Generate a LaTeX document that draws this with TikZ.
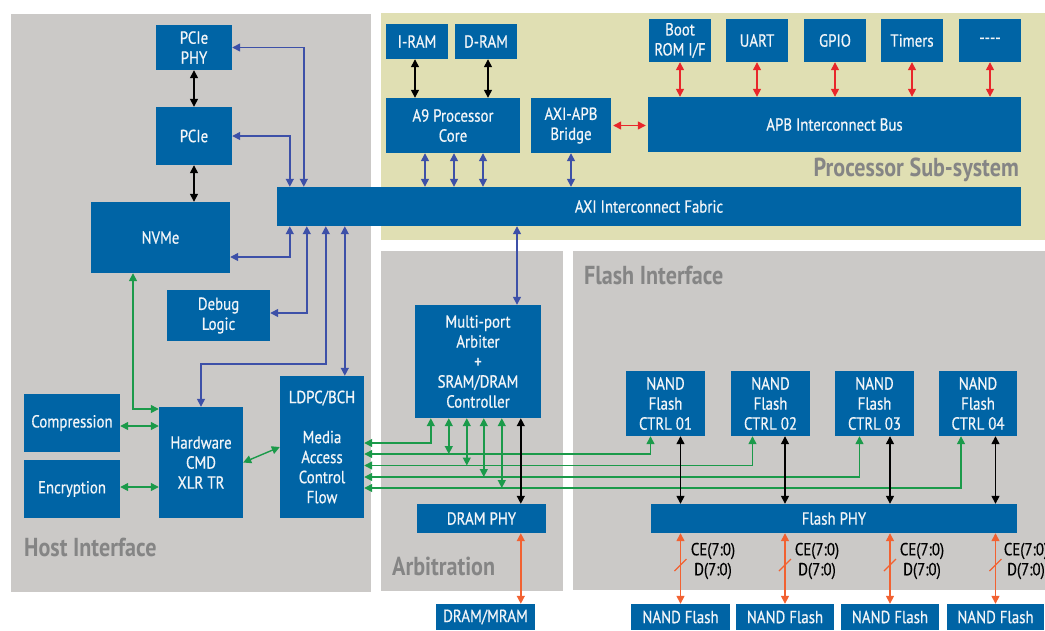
\documentclass[tikz,border=0pt]{standalone}
\usepackage{fontspec}
\setmainfont[FakeStretch=0.85]{PT Sans}
\newfontfamily\boxfont[FakeStretch=0.85, FakeBold=0.6]{PT Sans}
\usepackage{xcolor}
\usepackage{tikz}
\usetikzlibrary{arrows.meta,positioning}
\tikzset{>={Triangle[length=8pt,width=8pt]}}

\definecolor{boxblue}{HTML}{0064A5}
\definecolor{boxtext}{HTML}{F2F5F8}
\definecolor{areagray}{HTML}{CBC9C7}
\definecolor{proctan}{HTML}{E0DFB3}
\definecolor{areatext}{HTML}{858585}
\definecolor{arrblue}{HTML}{3D50A8}
\definecolor{arrgreen}{HTML}{1B9A4A}
\definecolor{arrred}{HTML}{E8262B}
\definecolor{arrorange}{HTML}{F26131}

\begin{document}
\begin{tikzpicture}[x=1pt, y=-1pt,
                    blk/.style={fill=boxblue, text=boxtext, align=center, inner sep=0pt,
                                font=\boxfont\fontsize{17.5}{20}\selectfont},
                    area/.style={text=areatext, inner sep=0pt,
                                 font=\fontsize{26}{28}\selectfont\bfseries},
                    sig/.style={align=center, inner sep=0pt, font=\boxfont\fontsize{17.5}{20}\selectfont},
                    blu/.style={line width=1.4pt, arrblue, <->},
                    grn/.style={line width=1.4pt, arrgreen, <->},
                    red/.style={line width=1.4pt, arrred, <->},
                    org/.style={line width=1.4pt, arrorange, <->},
                    blk2/.style={line width=1.4pt, black, <->},
                   ]

\useasboundingbox (0,0) rectangle (1045,630);

% areas
\fill[areagray] (11,14) rectangle (371,592);
\fill[proctan] (381,13) rectangle (1045,240);
\fill[areagray] (381,251) rectangle (563,591);
\fill[areagray] (573,251) rectangle (1045,590);

\node[area, anchor=base west] (hostlbl) at (24,556) {Host Interface};
\node[area, anchor=base east] (proclbl) at (1019,176) {Processor Sub-system};
\node[area, anchor=base west] (arblbl) at (392,575) {Arbitration};
\node[area, anchor=base west] (flashlbl) at (584,284) {Flash Interface};

% host interface
\node[blk, minimum width=76pt, minimum height=45pt] (pciephy) at (194,47.5) {PCIe\\PHY};
\node[blk, minimum width=76pt, minimum height=58pt] (pcie) at (194,136) {PCIe};
\node[blk, minimum width=139pt, minimum height=71pt] (nvme) at (160.5,237.5) {NVMe};
\node[blk, minimum width=103pt, minimum height=51pt] (debug) at (218.5,315.5) {Debug\\Logic};
\node[blk, minimum width=96pt, minimum height=58pt] (compr) at (72,423) {Compression};
\node[blk, minimum width=96pt, minimum height=58pt] (encr) at (72,489) {Encryption};
\node[blk, minimum width=84pt, minimum height=111pt] (hwcmd) at (201,462.5) {Hardware\\CMD\\XLR TR};
\node[blk, minimum width=84pt, minimum height=142pt] (ldpc) at (322,447) {LDPC/BCH\\[20pt]Media\\Access\\Control\\Flow};

% processor sub-system
\node[blk, minimum width=744pt, minimum height=39pt] (fabric) at (649,206.5) {AXI Interconnect Fabric};
\node[blk, minimum width=62pt, minimum height=35pt] (iram) at (417,41.5) {I-RAM};
\node[blk, minimum width=62pt, minimum height=35pt] (dram) at (486,41.5) {D-RAM};
\node[blk, minimum width=134pt, minimum height=55pt] (a9) at (453,125.5) {A9 Processor\\Core};
\node[blk, minimum width=80pt, minimum height=55pt] (bridge) at (571,125.5) {AXI-APB\\Bridge};
\node[blk, minimum width=373pt, minimum height=55pt] (apb) at (834.5,124.5) {APB Interconnect Bus};
\node[blk, minimum width=62pt, minimum height=43pt] (boot) at (680,40.5) {Boot\\ROM I/F};
\node[blk, minimum width=62pt, minimum height=43pt] (uart) at (757,40.5) {UART};
\node[blk, minimum width=62pt, minimum height=43pt] (gpio) at (835,40.5) {GPIO};
\node[blk, minimum width=62pt, minimum height=43pt] (timers) at (912,40.5) {Timers};
\node[blk, minimum width=62pt, minimum height=43pt] (spare) at (990,40.5) {-{}-{}-{}-};

% arbitration
\node[blk, minimum width=126pt, minimum height=113pt] (arb) at (478,361.5) {Multi-port\\Arbiter\\+\\SRAM/DRAM\\Controller};
\node[blk, minimum width=129pt, minimum height=29pt] (dphy) at (481.5,518.5) {DRAM PHY};
\node[blk, minimum width=99pt, minimum height=26pt] (mram) at (485.5,617) {DRAM/MRAM};

% flash interface
\node[blk, minimum width=79pt, minimum height=65pt] (nc1) at (665.5,403.5) {NAND\\Flash\\CTRL 01};
\node[blk, minimum width=79pt, minimum height=65pt] (nc2) at (770.5,403.5) {NAND\\Flash\\CTRL 02};
\node[blk, minimum width=79pt, minimum height=65pt] (nc3) at (874.5,403.5) {NAND\\Flash\\CTRL 03};
\node[blk, minimum width=78pt, minimum height=65pt] (nc4) at (978,403.5) {NAND\\Flash\\CTRL 04};
\node[blk, minimum width=366pt, minimum height=29pt] (fphy) at (834,518.5) {Flash PHY};
\node[blk, minimum width=99pt, minimum height=26pt] (nf1) at (680.5,617) {NAND Flash};
\node[blk, minimum width=98pt, minimum height=26pt] (nf2) at (785,617) {NAND Flash};
\node[blk, minimum width=98pt, minimum height=26pt] (nf3) at (890,617) {NAND Flash};
\node[blk, minimum width=97pt, minimum height=26pt] (nf4) at (995.5,617) {NAND Flash};

\node[sig] (bus1) at (713,561) {CE(7:0)\\D(7:0)};
\node[sig] (bus2) at (817,561) {CE(7:0)\\D(7:0)};
\node[sig] (bus3) at (922,561) {CE(7:0)\\D(7:0)};
\node[sig] (bus4) at (1026,561) {CE(7:0)\\D(7:0)};

% black links
\draw[blk2] (pciephy.south) -- (pcie.north);
\draw[blk2] (pcie.south) -- (pcie.south |- nvme.north);
\draw[blk2] ([xshift=-2pt]iram.south) -- ([xshift=-2pt]iram.south |- a9.north);
\draw[blk2] ([xshift=2pt]dram.south) -- ([xshift=2pt]dram.south |- a9.north);

% host blue links
\draw[blu] (pciephy.east) -| ([xshift=27pt]fabric.north west);
\draw[blu] (pcie.east) -| ([xshift=13pt]fabric.north west);
\draw[blu] (nvme.east |- 0,257) -| ([xshift=13pt]fabric.south west);
\draw[blu] (debug.east |- 0,313) -| ([xshift=30pt]fabric.south west);
\draw[blu] ([xshift=49pt]fabric.south west) |- (hwcmd.north |- 0,364) -- (hwcmd.north);
\draw[blu] ([xshift=68pt]fabric.south west) -- ([xshift=68pt]fabric.south west |- ldpc.north);

% processor blue and red links
\draw[blu] ([xshift=-28pt]a9.south) -- ([xshift=-28pt]a9.south |- fabric.north);
\draw[blu] ([xshift=1pt]a9.south) -- ([xshift=1pt]a9.south |- fabric.north);
\draw[blu] ([xshift=30pt]a9.south) -- ([xshift=30pt]a9.south |- fabric.north);
\draw[blu] (bridge.south) -- (bridge.south |- fabric.north);
\draw[blu] ([xshift=39pt]arb.north) -- ([xshift=39pt]arb.north |- fabric.south);

\draw[red] ([xshift=2pt]bridge.east) -- ([xshift=-2pt]bridge.east -| apb.west);
\draw[red] (boot.south) -- (boot.south |- apb.north);
\draw[red] (uart.south) -- (uart.south |- apb.north);
\draw[red] (gpio.south) -- (gpio.south |- apb.north);
\draw[red] (timers.south) -- (timers.south |- apb.north);
\draw[red] (spare.south) -- (spare.south |- apb.north);

% host green links
\draw[grn] ([xshift=-27.5pt]nvme.south) |- (hwcmd.west |- 0,409);
\draw[grn] (compr.east |- 0,426) -- (hwcmd.west |- 0,426);
\draw[grn] (encr.east |- 0,487) -- (hwcmd.west |- 0,487);
\draw[grn] (hwcmd.east) -- (ldpc.west);

% green links to arbiter and flash controllers
\draw[grn] ([xshift=16pt]arb.south west) |- (ldpc.east |- 0,443);
\draw[grn] (ldpc.east |- 0,454) -| ([xshift=-15pt]nc1.south);
\draw[grn] (ldpc.east |- 0,465.5) -| ([xshift=-18pt]nc2.south);
\draw[grn] (ldpc.east |- 0,477) -| ([xshift=-15pt]nc3.south);
\draw[grn] (ldpc.east |- 0,488) -| ([xshift=-17pt]nc4.south);
\draw[grn] ([xshift=34pt]arb.south west) -- ([xshift=34pt]arb.south west |- 0,454);
\draw[grn] ([xshift=52pt]arb.south west) -- ([xshift=52pt]arb.south west |- 0,465.5);
\draw[grn] ([xshift=69pt]arb.south west) -- ([xshift=69pt]arb.south west |- 0,477);
\draw[grn] ([xshift=87pt]arb.south west) -- ([xshift=87pt]arb.south west |- 0,488);

% memory path
\draw[blk2] ([xshift=106pt]arb.south west) -- ([xshift=106pt]arb.south west |- dphy.north);
\draw[org] ([xshift=106pt]arb.south west |- dphy.south) -- ([xshift=106pt]arb.south west |- mram.north);

% flash path
\draw[blk2] (nc1.south -| nf1.north) -- (fphy.north -| nf1.north);
\draw[blk2] (nc2.south -| nf2.north) -- (fphy.north -| nf2.north);
\draw[blk2] (nc3.south -| nf3.north) -- (fphy.north -| nf3.north);
\draw[blk2] (nc4.south -| nf4.north) -- (fphy.north -| nf4.north);
\draw[org] (fphy.south -| nf1.north) -- (nf1.north);
\draw[org] (fphy.south -| nf2.north) -- (nf2.north);
\draw[org] (fphy.south -| nf3.north) -- (nf3.north);
\draw[org] (fphy.south -| nf4.north) -- (nf4.north);
\draw[arrorange, line width=1.2pt] (674.5,571) -- (686.5,559);
\draw[arrorange, line width=1.2pt] (779,571) -- (791,559);
\draw[arrorange, line width=1.2pt] (884,571) -- (896,559);
\draw[arrorange, line width=1.2pt] (989.5,571) -- (1001.5,559);

\end{tikzpicture}
\end{document}
